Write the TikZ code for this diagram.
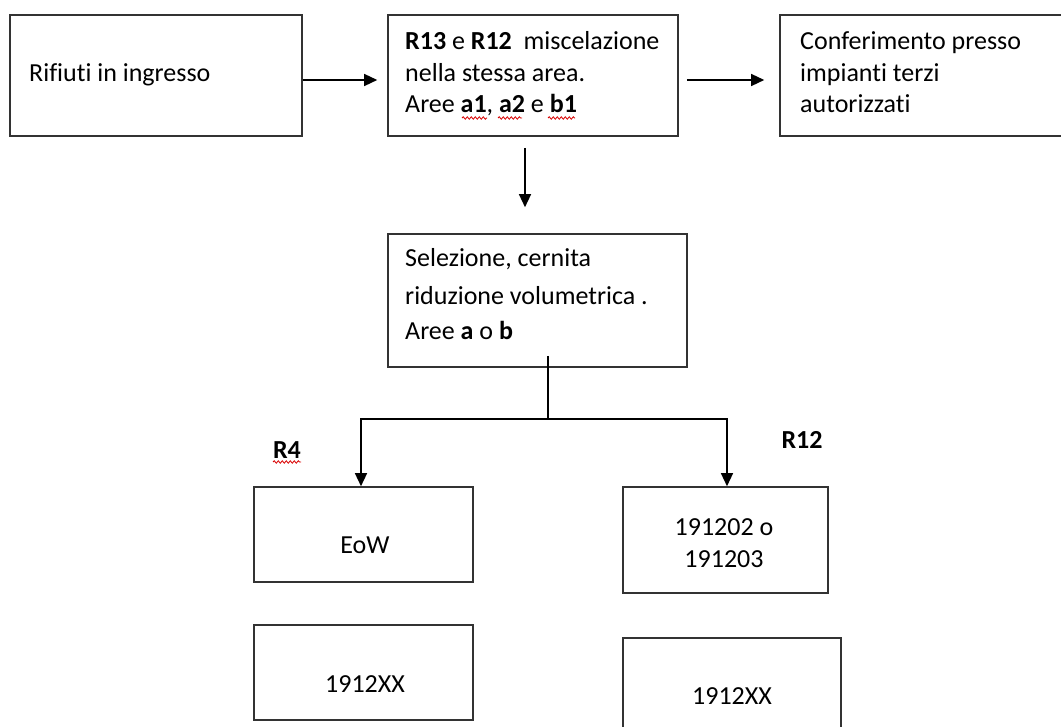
\documentclass[tikz,border=0pt]{standalone}
\usepackage{fontspec}
\setmainfont{Carlito}[Ligatures=NoCommon]
\usetikzlibrary{arrows.meta,decorations.pathmorphing}
\definecolor{boxline}{HTML}{333333}
\tikzset{
  box/.style={draw=boxline, line width=1.6pt, inner sep=0pt, fill=white},
  txt/.style={inner sep=0pt, anchor=base west, font=\fontsize{26}{30}\selectfont, text=black},
  ctxt/.style={inner sep=0pt, anchor=base, font=\fontsize{26}{30}\selectfont, text=black},
  conn/.style={draw=black, line width=1.4pt},
  arr/.style={conn, -{Triangle[length=13pt,width=12pt]}},
  squig/.style={draw=red!85!black, line width=0.8pt, decorate, decoration={snake, amplitude=1.2pt, segment length=4pt}}
}
\begin{document}
\begin{tikzpicture}[x=1pt,y=-1pt]
\useasboundingbox (0,0) rectangle (1061,727);
% boxes
\node[box, minimum width=292pt, minimum height=121pt] (in) at (156,75.5) {};
\node[box, minimum width=290pt, minimum height=121pt] (mix) at (533,75.5) {};
\node[box, minimum width=295pt, minimum height=121pt] (conf) at (927.5,75.5) {};
\node[box, minimum width=299pt, minimum height=133pt] (sel) at (537.5,300.5) {};
\node[box, minimum width=219pt, minimum height=95pt] (eow) at (363.5,534.5) {};
\node[box, minimum width=219pt, minimum height=95pt] (xxl) at (363.5,672.5) {};
\node[box, minimum width=205pt, minimum height=106pt] (cod) at (725.5,540) {};
\node[box, minimum width=218pt, minimum height=107pt] (xxr) at (732,691.5) {};
% texts
\node[txt] (t1) at (29,82) {Rifiuti in ingresso};
\node[txt] (t21) at (405,50) {\textbf{R13} e \textbf{R12}\ \ miscelazione};
\node[txt] (t22) at (405,82) {nella stessa area.};
\node[txt] (t23) at (405,113) {Aree \textbf{a1}, \textbf{a2} e \textbf{b1}};
\node[txt] (t31) at (800,50) {Conferimento presso};
\node[txt] (t32) at (800,82) {impianti terzi};
\node[txt] (t33) at (800,113) {autorizzati};
\node[txt] (t41) at (405,267) {Selezione, cernita};
\node[txt] (t42) at (405,305) {riduzione volumetrica .};
\node[txt] (t43) at (405,340) {Aree \textbf{a} o \textbf{b}};
\node[ctxt] (t5) at (365,553) {EoW};
\node[ctxt] (t6) at (365,692) {1912XX};
\node[ctxt] (t71) at (724,535) {191202 o};
\node[ctxt] (t72) at (724,567) {191203};
\node[ctxt] (t8) at (732,704) {1912XX};
\node[ctxt] (r4) at (287,458) {\textbf{R4}};
\node[ctxt] (r12) at (802,449) {\textbf{R12}};
% spell-check squiggles
\draw[squig] (462,118) -- (487,118);
\draw[squig] (498,118) -- (522,118);
\draw[squig] (548,118) -- (575,118);
\draw[squig] (273,462) -- (301,462);
% connectors
\draw[arr, shorten >=10pt] ([yshift=-4.5pt]in.east) -- ([yshift=-4.5pt]mix.west);
\draw[arr, shorten <=8pt, shorten >=15pt] ([yshift=-4.5pt]mix.east) -- ([yshift=-4.5pt]conf.west);
\draw[arr, shorten <=11pt, shorten >=26pt] ([xshift=-8pt]mix.south) -- ([xshift=-8pt]mix.south |- sel.north);
\coordinate (j) at (548,419);
\draw[conn] ([xshift=10.5pt,yshift=12pt]sel.south) -- (j);
\draw[arr] (j) -| ([xshift=-2.5pt]eow.north);
\draw[arr] (j) -| ([xshift=1.5pt]cod.north);
\end{tikzpicture}
\end{document}
